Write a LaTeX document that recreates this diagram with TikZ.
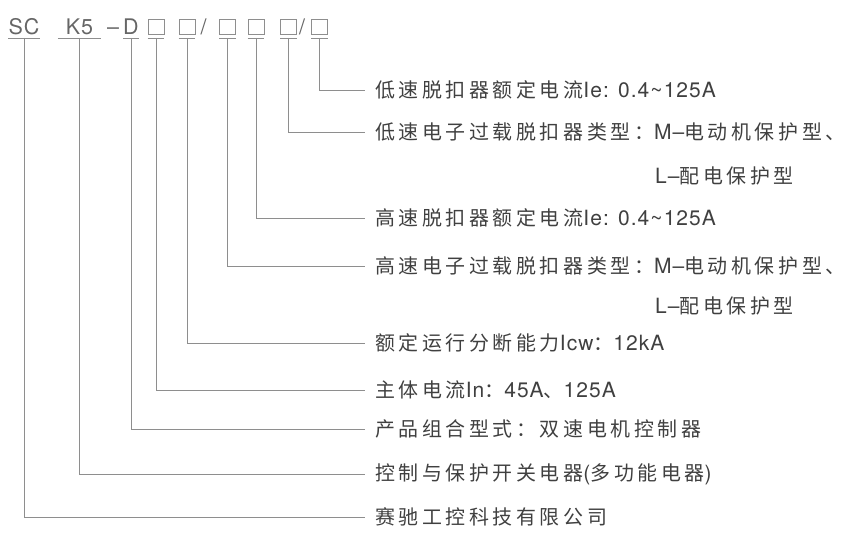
\documentclass[tikz,border=0pt]{standalone}
\usepackage{fontspec}
\setmainfont[LetterSpace=5]{TeX Gyre Heros}
\newfontfamily\cjk[LetterSpace=18,Scale=0.95]{Noto Sans CJK SC}
\usetikzlibrary{positioning}
\definecolor{linegray}{HTML}{8E8E8E}
\definecolor{textgray}{HTML}{404040}
\definecolor{codegray}{HTML}{666666}
\tikzset{
	lead/.style={draw=linegray, line width=0.8pt},
	code/.style={anchor=base, inner sep=0pt, text=codegray, font=\fontsize{21.5}{24}\selectfont},
	slot/.style={anchor=south, draw=linegray, line width=0.8pt, inner sep=0pt, minimum width=16pt, minimum height=15pt},
	desc/.style={anchor=west, inner xsep=10pt, inner ysep=0pt, text=textgray, font=\fontsize{21}{24}\selectfont},
}

\begin{document}
\begin{tikzpicture}[x=1pt, y=-1pt]
			%%%%% START %%%%%
			\def\ybase{35}
			\def\xend{365}
			\def\xsub{655}
			\useasboundingbox (0,0) rectangle (851,540);
			
			% model code
			\node[code] (sc) at (24,\ybase) {SC};
			\node[code, minimum width=43pt] (k5) at (79.5,\ybase) {K5};
			\node[code] (sep1) at (113,\ybase) {–};
			\node[code] (d) at (131,\ybase) {D};
			\node[slot] (b1) at (156,\ybase) {};
			\node[slot] (b2) at (187,\ybase) {};
			\node[code] (sep2) at (203.5,\ybase) {/};
			\node[slot] (b3) at (227.5,\ybase) {};
			\node[slot] (b4) at (256,\ybase) {};
			\node[slot] (b5) at (288.5,\ybase) {};
			\node[code] (sep3) at (302,\ybase) {/};
			\node[slot] (b6) at (319.5,\ybase) {};
			
			% descriptions
			\node[desc] (lowrate) at (\xend,90) {{\cjk 低速脱扣器额定电流}Ie: 0.4\textasciitilde125A};
			\node[desc] (lowtype) at (\xend,132) {{\cjk 低速电子过载脱扣器类型：}M–{\cjk 电动机保护型、}};
			\node[desc, inner xsep=0pt] (lowtypeb) at (\xsub,176) {L–{\cjk 配电保护型}};
			\node[desc] (highrate) at (\xend,218) {{\cjk 高速脱扣器额定电流}Ie: 0.4\textasciitilde125A};
			\node[desc] (hightype) at (\xend,266) {{\cjk 高速电子过载脱扣器类型：}M–{\cjk 电动机保护型、}};
			\node[desc, inner xsep=0pt] (hightypeb) at (\xsub,306) {L–{\cjk 配电保护型}};
			\node[desc] (breakcap) at (\xend,343) {{\cjk 额定运行分断能力}Icw{\cjk ：}12kA};
			\node[desc] (maincur) at (\xend,390) {{\cjk 主体电流}In{\cjk ：}45A{\cjk 、}125A};
			\node[desc] (combo) at (\xend,429) {{\cjk 产品组合型式：双速电机控制器}};
			\node[desc] (ctrl) at (\xend,474) {{\cjk 控制与保护开关电器}({\cjk 多功能电器})};
			\node[desc] (firm) at (\xend,517) {{\cjk 赛驰工控科技有限公司}};
			
			% underlines and leaders
			\foreach \n/\m in {sc/firm, k5/ctrl, d/combo} {
				\draw[lead] ([yshift=-3pt]\n.base west) -- ([yshift=-3pt]\n.base east);
				\draw[lead] ([yshift=-3pt]\n.base) |- (\m.west);
			}
			\foreach \n/\m in {b1/maincur, b2/breakcap, b3/hightype, b4/highrate, b5/lowtype, b6/lowrate} {
				\draw[lead] ([yshift=-3pt]\n.south west) -- ([yshift=-3pt]\n.south east);
				\draw[lead] ([yshift=-3pt]\n.south) |- (\m.west);
			}
			%%%%% END %%%%%
\end{tikzpicture}
\end{document}
